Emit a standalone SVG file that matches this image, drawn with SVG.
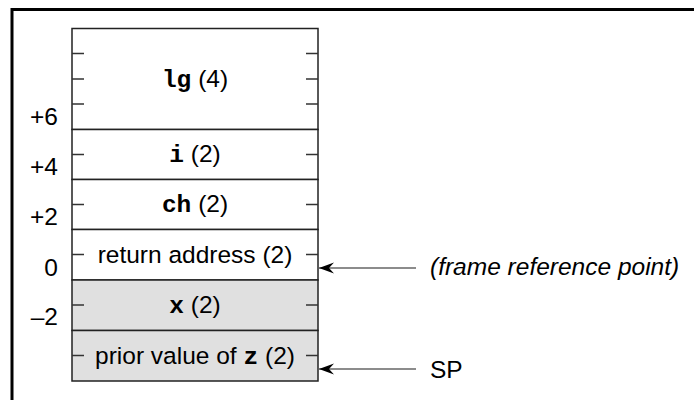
<svg xmlns="http://www.w3.org/2000/svg" width="694" height="400" viewBox="0 0 694 400">
<defs>
<style>
.t{font-family:"Liberation Sans",Arial,sans-serif;font-size:24.5px;fill:#000}
.m{font-family:"Liberation Mono","Courier New",monospace;font-weight:bold}
.c{text-anchor:middle}
.r{text-anchor:end}
.cell{stroke:#222;stroke-width:1.5}
.tick{stroke:#333;stroke-width:1.4}
.conn{stroke:#666;stroke-width:1.5;fill:none}
</style>
<marker id="ah" viewBox="0 0 16 12" refX="16" refY="6" markerWidth="16" markerHeight="12" markerUnits="userSpaceOnUse" orient="auto">
<path d="M16,6 L1,0.5 L6,6 L1,11.5 Z" fill="#000"/>
</marker>
</defs>
<rect width="694" height="400" fill="#fff"/>
<path d="M12,400 V9.5 H694" fill="none" stroke="#000" stroke-width="3"/>
<g id="offsets" class="t r">
<text x="58" y="125">+6</text>
<text x="58" y="175">+4</text>
<text x="58" y="225">+2</text>
<text x="58" y="276">0</text>
<text x="58" y="325">–2</text>
</g>
<g id="lg">
<rect x="72" y="28.5" width="246" height="101" fill="#fff" class="cell"/>
<path class="tick" d="M72,53.5h12M72,79h12M72,104h12M318,53.5h-12M318,79h-12M318,104h-12"/>
<text class="t c" x="195" y="87"><tspan class="m">lg</tspan> (4)</text>
</g>
<g id="i">
<rect x="72" y="129.5" width="246" height="50" fill="#fff" class="cell"/>
<path class="tick" d="M72,154.5h12M318,154.5h-12"/>
<text class="t c" x="195" y="162"><tspan class="m">i</tspan> (2)</text>
</g>
<g id="ch">
<rect x="72" y="179.5" width="246" height="50" fill="#fff" class="cell"/>
<path class="tick" d="M72,204.5h12M318,204.5h-12"/>
<text class="t c" x="195" y="212"><tspan class="m">ch</tspan> (2)</text>
</g>
<g id="ret">
<rect x="72" y="229.5" width="246" height="50.5" fill="#fff" class="cell"/>
<path class="tick" d="M72,254.5h12M318,254.5h-12"/>
<text class="t c" x="195" y="262.5">return address (2)</text>
</g>
<g id="x">
<rect x="72" y="280" width="246" height="50.5" fill="#e0e0e0" class="cell"/>
<path class="tick" d="M72,305h12M318,305h-12"/>
<text class="t c" x="195" y="313"><tspan class="m">x</tspan> (2)</text>
</g>
<g id="z">
<rect x="72" y="330.5" width="246" height="50.5" fill="#e0e0e0" class="cell"/>
<path class="tick" d="M72,355.5h12M318,355.5h-12"/>
<text class="t c" x="195" y="364">prior value of <tspan class="m">z</tspan> (2)</text>
</g>
<g id="connectors">
<line class="conn" x1="416" y1="268" x2="319" y2="268" marker-end="url(#ah)"/>
<line class="conn" x1="416" y1="369" x2="319" y2="369" marker-end="url(#ah)"/>
</g>
<g id="frame-label"><text class="t" x="430" y="275" font-style="italic">(frame reference point)</text></g>
<g id="sp-label"><text class="t" x="430" y="378">SP</text></g>
</svg>
